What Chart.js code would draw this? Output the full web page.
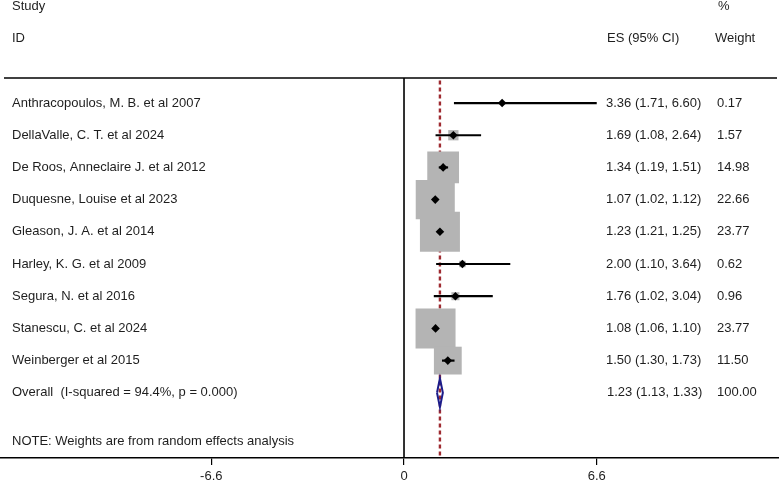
<!DOCTYPE html>
<html><head><meta charset="utf-8">
<script src="https://cdn.jsdelivr.net/npm/chart.js@4.4.0/dist/chart.umd.min.js"></script>
<style>html,body{margin:0;padding:0;background:#fff;}#wrap{width:779px;height:484px;}</style>
</head><body><div id="wrap"><canvas id="c" width="779" height="484"></canvas></div>
<script>
const studies = ["Anthracopoulos, M. B. et al 2007","DellaValle, C. T. et al 2024","De Roos, Anneclaire J. et al 2012","Duquesne, Louise et al 2023","Gleason, J. A. et al 2014","Harley, K. G. et al 2009","Segura, N. et al 2016","Stanescu, C. et al 2024","Weinberger et al 2015"];
const es = [3.36,1.69,1.34,1.07,1.23,2.00,1.76,1.08,1.50];
const ciLow = [1.71,1.08,1.19,1.02,1.21,1.10,1.02,1.06,1.30];
const ciHigh = [6.60,2.64,1.51,1.12,1.25,3.64,3.04,1.10,1.73];
const weights = [0.17,1.57,14.98,22.66,23.77,0.62,0.96,23.77,11.50];
const esLabels = ["3.36 (1.71, 6.60)","1.69 (1.08, 2.64)","1.34 (1.19, 1.51)","1.07 (1.02, 1.12)","1.23 (1.21, 1.25)","2.00 (1.10, 3.64)","1.76 (1.02, 3.04)","1.08 (1.06, 1.10)","1.50 (1.30, 1.73)"];
const weightLabels = ["0.17","1.57","14.98","22.66","23.77","0.62","0.96","23.77","11.50"];
const overallLabel = "Overall  (I-squared = 94.4%, p = 0.000)";
const overallES = 1.23, overallLow = 1.13, overallHigh = 1.33;
const overallESLabel = "1.23 (1.13, 1.33)";
const overallWeightLabel = "100.00";
const noteText = "NOTE: Weights are from random effects analysis";
const headerLeft = ["Study","ID"];
const headerES = "ES (95% CI)";
const headerWeight = ["%","Weight"];
const tickValues = [-6.6, 0, 6.6];
const tickLabels = ["-6.6","0","6.6"];

// layout constants
const X_MIN = -13.836, X_MAX = 12.842;
const Y_MIN = -2.2, Y_MAX = 12.025;
const rows = studies.map((s,i)=>i+1);
const overallRow = studies.length + 1;
const noteRow = overallRow + 1.5;
const dividerRow = 0.22;
const FONT = '13px "Liberation Sans", Arial, sans-serif';
const TEXT = '#1e1e1e';

const boxData = es.map((v,i)=>({x:v,y:rows[i]}));
const boxRadius = weights.map(w=>5.8*Math.sqrt(w));
const ciSets = es.map((v,i)=>({
  type:'line', showLine:true, data:[{x:ciLow[i],y:rows[i]},{x:ciHigh[i],y:rows[i]}],
  borderColor:'#000', borderWidth:2.2, pointRadius:0, order:7, clip:false
}));
const dh = 0.45;
const overallDiamond = [
  {x:overallLow,y:overallRow},{x:overallES,y:overallRow-dh},{x:overallHigh,y:overallRow},
  {x:overallES,y:overallRow+dh},{x:overallLow,y:overallRow}
];

const textPlugin = {
  id:'forestText',
  afterDraw(chart){
    const ctx = chart.ctx, ys = chart.scales.y, a = chart.chartArea;
    ctx.save();
    ctx.strokeStyle='#000'; ctx.lineWidth=1.5;
    const yd = ys.getPixelForValue(dividerRow);
    ctx.beginPath(); ctx.moveTo(a.left+4, yd); ctx.lineTo(a.right-2, yd); ctx.stroke();
    ctx.font = FONT; ctx.fillStyle = TEXT; ctx.textBaseline='middle'; ctx.textAlign='left';
    ctx.fillText(headerLeft[0], 12, ys.getPixelForValue(-2));
    ctx.fillText(headerLeft[1], 12, ys.getPixelForValue(-1));
    ctx.fillText(headerES, 607, ys.getPixelForValue(-1));
    ctx.fillText(headerWeight[0], 718, ys.getPixelForValue(-2));
    ctx.fillText(headerWeight[1], 715, ys.getPixelForValue(-1));
    studies.forEach((s,i)=>{
      const y = ys.getPixelForValue(rows[i]);
      ctx.fillText(s, 12, y);
      ctx.fillText(esLabels[i], 606, y);
      ctx.fillText(weightLabels[i], 717, y);
    });
    const yo = ys.getPixelForValue(overallRow);
    ctx.fillText(overallLabel, 12, yo);
    ctx.fillText(overallESLabel, 607, yo);
    ctx.fillText(overallWeightLabel, 717, yo);
    ctx.fillText(noteText, 12, ys.getPixelForValue(noteRow));
    ctx.restore();
  }
};

new Chart(document.getElementById('c'), {
  type:'scatter',
  data:{datasets:[
    {type:'line', showLine:true, data:[{x:0,y:dividerRow},{x:0,y:Y_MAX}], borderColor:'#000', borderWidth:1.6, pointRadius:0, order:10, clip:false},
    {type:'line', showLine:true, data:[{x:overallES,y:dividerRow+0.08},{x:overallES,y:Y_MAX}], borderColor:'#9e2a30', borderWidth:2.4, borderDash:[4,3], pointRadius:0, order:9, clip:false},
    {data:boxData, pointStyle:'rect', pointRadius:boxRadius, backgroundColor:'#b4b4b4', borderWidth:0, order:8, clip:false},
    ...ciSets,
    {data:boxData, pointStyle:'rectRot', pointRadius:4.3, backgroundColor:'#000', borderWidth:0, order:6, clip:false},
    {type:'line', showLine:true, data:overallDiamond, borderColor:'#1c1c8a', borderWidth:2, pointRadius:0, fill:false, order:5, clip:false}
  ]},
  options:{
    responsive:false, animation:false, devicePixelRatio:1,
    layout:{padding:0, autoPadding:false},
    plugins:{legend:{display:false}, tooltip:{enabled:false}},
    scales:{
      x:{type:'linear', min:X_MIN, max:X_MAX,
        afterBuildTicks:(s)=>{ s.ticks = tickValues.map(v=>({value:v})); },
        afterFit:(s)=>{ s.height = 26; },
        ticks:{callback:(v,i)=>tickLabels[i], font:{family:'"Liberation Sans", Arial, sans-serif', size:13}, color:TEXT, padding:4, maxRotation:0, autoSkip:false},
        grid:{drawOnChartArea:false, drawTicks:true, tickLength:7, color:'#000', lineWidth:1.2},
        border:{display:true, color:'#000', width:1.5}
      },
      y:{display:false, min:Y_MIN, max:Y_MAX, reverse:true}
    }
  },
  plugins:[textPlugin]
});
</script></body></html>
